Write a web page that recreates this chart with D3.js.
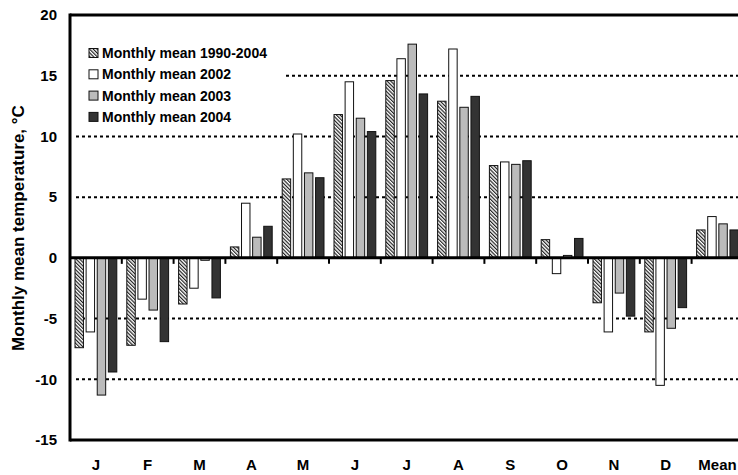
<!DOCTYPE html>
<html>
<head>
<meta charset="utf-8">
<script src="https://cdn.jsdelivr.net/npm/d3@7"></script>
<style>
  body { margin: 0; background: #fff; }
  text { font-family: "Liberation Sans", Arial, sans-serif; font-weight: bold; }
</style>
</head>
<body>
<div id="chart"></div>
<script>
// categories and series
var months = ["J", "F", "M", "A", "M ", "J ", "J  ", "A ", "S", "O", "N", "D", "Mean"];
var series = ["Monthly mean 1990-2004", "Monthly mean 2002", "Monthly mean 2003", "Monthly mean 2004"];

var mean9004 = [-7.4, -7.2, -3.8, 0.9, 6.5, 11.8, 14.6, 12.9, 7.6, 1.5, -3.7, -6.1, 2.3];
var mean2002 = [-6.1, -3.4, -2.5, 4.5, 10.2, 14.5, 16.4, 17.2, 7.9, -1.3, -6.1, -10.5, 3.4];
var mean2003 = [-11.3, -4.3, -0.2, 1.7, 7.0, 11.5, 17.6, 12.4, 7.7, 0.2, -2.9, -5.8, 2.8];
var mean2004 = [-9.4, -6.9, -3.3, 2.6, 6.6, 10.4, 13.5, 13.3, 8.0, 1.6, -4.8, -4.1, 2.3];

var yTicks = [20, 15, 10, 5, 0, -5, -10, -15];
var gridVals = [15, 10, 5, -5, -10];

var allSeries = [mean9004, mean2002, mean2003, mean2004];
var fills = ["url(#hatch)", "#ffffff", "#bbbbbb", "#333333"];

var W = 738, H = 475;
var margin = {top: 15, left: 70},
    band = 51.8,
    plotRight = margin.left + band * months.length,
    plotBottom = 440;

var svg = d3.select("#chart").append("svg")
    .attr("width", W)
    .attr("height", H);

var defs = svg.append("defs");
var pat = defs.append("pattern")
    .attr("id", "hatch")
    .attr("patternUnits", "userSpaceOnUse")
    .attr("width", 2.6)
    .attr("height", 2.6)
    .attr("patternTransform", "rotate(-45)");
pat.append("rect").attr("width", 2.6).attr("height", 2.6).attr("fill", "#fff");
pat.append("line")
    .attr("x1", 0.6).attr("y1", 0).attr("x2", 0.6).attr("y2", 2.6)
    .attr("stroke", "#111").attr("stroke-width", 1.1);

var x = d3.scaleBand().domain(months).range([margin.left, plotRight]);
var xs = d3.scaleBand().domain(d3.range(4)).range([5, band - 5]).paddingInner(0.24);
var y = d3.scaleLinear().domain([-15, 20]).range([plotBottom, margin.top]);

// gridlines
svg.append("g").selectAll("line")
    .data(gridVals)
    .enter().append("line")
    .attr("x1", margin.left + 6)
    .attr("x2", W)
    .attr("y1", function(d) { return y(d); })
    .attr("y2", function(d) { return y(d); })
    .attr("stroke", "#000")
    .attr("stroke-width", 2)
    .attr("stroke-dasharray", "3,3");

// legend background
svg.append("rect")
    .attr("x", margin.left + 3)
    .attr("y", 40)
    .attr("width", 213)
    .attr("height", 88)
    .attr("fill", "#fff");

// bars
allSeries.forEach(function(vals, si) {
    svg.append("g").selectAll("rect")
        .data(vals)
        .enter().append("rect")
        .attr("x", function(d, i) { return x(months[i]) + xs(si); })
        .attr("width", xs.bandwidth())
        .attr("y", function(d) { return y(Math.max(0, d)); })
        .attr("height", function(d) { return Math.abs(y(d) - y(0)); })
        .attr("fill", fills[si])
        .attr("stroke", "#111")
        .attr("stroke-width", 1);
});

// frame
var frame = svg.append("g").attr("stroke", "#000").attr("stroke-width", 3);
frame.append("line").attr("x1", margin.left).attr("x2", margin.left)
    .attr("y1", margin.top - 1.5).attr("y2", plotBottom + 1.5);
frame.append("line").attr("x1", margin.left).attr("x2", W)
    .attr("y1", margin.top).attr("y2", margin.top);
frame.append("line").attr("x1", margin.left).attr("x2", W)
    .attr("y1", plotBottom).attr("y2", plotBottom);
frame.append("line").attr("x1", margin.left).attr("x2", W)
    .attr("y1", y(0)).attr("y2", y(0));

// ticks on zero line
svg.append("g").selectAll("line")
    .data(months.slice(1))
    .enter().append("line")
    .attr("x1", function(d) { return x(d); })
    .attr("x2", function(d) { return x(d); })
    .attr("y1", y(0))
    .attr("y2", y(0) + 6)
    .attr("stroke", "#000")
    .attr("stroke-width", 2);

// y tick labels
svg.append("g").selectAll("text")
    .data(yTicks)
    .enter().append("text")
    .attr("x", 57)
    .attr("y", function(d) { return y(d); })
    .attr("dy", "0.35em")
    .attr("text-anchor", "end")
    .style("font-size", "15px")
    .text(function(d) { return d; });

// x labels
svg.append("g").selectAll("text")
    .data(months)
    .enter().append("text")
    .attr("x", function(d) { return x(d) + band / 2; })
    .attr("y", 465)
    .attr("dy", "0.35em")
    .attr("text-anchor", "middle")
    .style("font-size", "15px")
    .text(function(d) { return d.trim(); });

// y title
svg.append("text")
    .attr("transform", "translate(18," + 228 + ") rotate(-90)")
    .attr("text-anchor", "middle")
    .attr("dy", "0.35em")
    .style("font-size", "17px")
    .text("Monthly mean temperature, \u00B0C");

// legend
var leg = svg.append("g").selectAll("g")
    .data(series)
    .enter().append("g")
    .attr("transform", function(d, i) { return "translate(89," + (53 + i * 21.3) + ")"; });
leg.append("rect")
    .attr("x", 0).attr("y", -4.5)
    .attr("width", 9).attr("height", 9)
    .attr("fill", function(d, i) { return fills[i]; })
    .attr("stroke", "#111")
    .attr("stroke-width", 1);
leg.append("text")
    .attr("x", 13)
    .attr("dy", "0.35em")
    .style("font-size", "14px")
    .text(function(d) { return d; });
</script>
</body>
</html>
